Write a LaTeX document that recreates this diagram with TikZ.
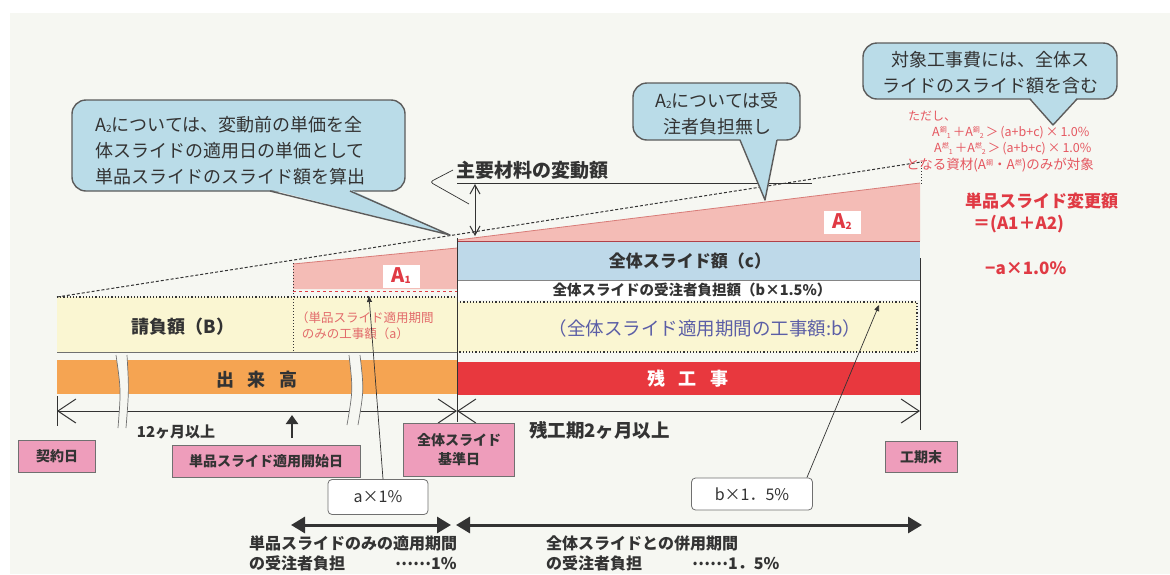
\documentclass[tikz,border=0pt]{standalone}
\usepackage{fontspec}
\setmainfont{Noto Sans CJK JP}
\usetikzlibrary{arrows.meta}
\definecolor{bgc}{HTML}{F6F7F2}
\definecolor{ylw}{HTML}{FAF6D2}
\definecolor{org}{HTML}{F5A452}
\definecolor{rd}{HTML}{E8383E}
\definecolor{rddk}{HTML}{B04048}
\definecolor{pnk}{HTML}{F4BCB6}
\definecolor{pnkdk}{HTML}{D87C78}
\definecolor{blu}{HTML}{BED9E9}
\definecolor{cal}{HTML}{BADCE8}
\definecolor{lbl}{HTML}{EE9DBB}
\definecolor{rtxt}{HTML}{E03A44}
\definecolor{atxt}{HTML}{E26A6A}
\definecolor{btxt}{HTML}{5B5EA6}
\definecolor{ln}{HTML}{333333}
\newcommand\Ajp[2]{A\raisebox{4pt}{\fontsize{7}{7}\selectfont #1}\raisebox{-2pt}{\fontsize{7}{7}\selectfont #2}}
\newcommand\subtwo[1]{\raisebox{-1pt}{\fontsize{10}{10}\selectfont #1}}
\newcommand\middots{\raisebox{4pt}{……}}
\tikzset{
  callbox/.style={fill=cal, draw=ln!80, line width=1.4pt, rounded corners=14pt},
  calltail/.style={fill=cal},
  calledge/.style={draw=ln!80, line width=1.4pt, line join=round},
  calltext/.style={align=left, text=ln, font=\fontsize{18}{26}\selectfont, inner sep=0pt},
  pinklbl/.style={fill=lbl, draw=ln!70, line width=0.8pt, font=\fontsize{14}{19}\selectfont\bfseries, text=ln, inner sep=1pt, align=center},
  valbox/.style={fill=white, draw=ln!70, line width=0.8pt, rounded corners=4pt, font=\fontsize{16}{18}\selectfont, text=ln, inner sep=1pt},
  dimarrow/.style={line width=1pt, draw=ln, {Straight Barb[length=18pt,width=24pt]}-{Straight Barb[length=18pt,width=24pt]}},
  bigarrow/.style={line width=3pt, draw=ln, {Triangle[length=14pt,width=16pt]}-{Triangle[length=14pt,width=16pt]}},
  leader/.style={line width=0.7pt, draw=ln, -{Triangle[length=6pt,width=5pt]}},
  boldlbl/.style={font=\fontsize{18}{22}\selectfont\bfseries, text=ln, inner sep=0pt},
  redlbl/.style={font=\fontsize{17}{22}\selectfont\bfseries, text=rtxt, inner sep=0pt, anchor=west},
  redsmall/.style={font=\fontsize{12.5}{13}\selectfont, text=rtxt!85, inner sep=0pt, anchor=west},
  Abox/.style={fill=white, inner sep=1pt, minimum width=37pt, minimum height=23pt, text=rtxt, font=\fontsize{20}{20}\selectfont\bfseries}
}
\begin{document}
\begin{tikzpicture}[x=1pt,y=-1pt]
\useasboundingbox (0,0) rectangle (1170,574);
\fill[white] (0,0) rectangle (1170,574);
\fill[bgc] (10,13) rectangle (1170,574);

% ---- left part: contract amount rows
\fill[ylw] (57,297) rectangle (457,352);
\fill[pnk] (293,264) -- (457,248) -- (457,289) -- (293,289) -- cycle;
\draw[pnkdk, line width=0.8pt] (293,264) -- (457,248);
\draw[rtxt, dashed, line width=1pt] (293,291) -- (457,291);
\draw[ln, dotted, line width=1.2pt] (57,297) -- (457,297);
\draw[ln, dotted, line width=1pt] (293,263) -- (293,352);
\draw[ln!70, line width=0.8pt] (57,352) -- (457,352);

% ---- right part rows
\fill[pnk] (457,240) -- (920,183) -- (920,241) -- (457,241) -- cycle;
\draw[pnkdk, line width=0.8pt] (457,240) -- (920,183);
\fill[blu] (457,242) rectangle (920,280);
\draw[rddk, line width=1pt] (457,241.5) -- (920,241.5);
\fill[white] (457,280) rectangle (920,300);
\draw[ln!60, line width=0.6pt] (457,280) -- (920,280);
\fill[ylw] (457,302) rectangle (917,352);
\draw[ln, dotted, line width=1.2pt] (457,302) -- (917,302) -- (917,352) -- (457,352);

\fill[org] (57,360) rectangle (457,394);
\fill[rd] (457,362) rectangle (920,395);

% ---- boundary lines
\draw[ln, line width=1pt] (457,238) -- (457,422);
\draw[ln, line width=1pt] (920,258) -- (920,430);
\draw[ln, line width=1pt] (57,396) -- (57,426);

% ---- dashed slope
\draw[ln, dash pattern=on 3pt off 2pt, line width=1pt] (57,297) -- (921,162);
\draw[ln, dotted, line width=1pt] (921,162) -- (921,185);

% ---- dimension line
\coordinate (dL) at (57,411);
\coordinate (dM) at (457,411);
\coordinate (dR) at (920,411);
\draw[dimarrow] (dL) -- (dM);
\draw[dimarrow] (dM) -- (dR);

% ---- breaks
\fill[bgc] (116,355) .. controls (121,390) .. (118,428) -- (126,428) .. controls (129,390) .. (127,355) -- cycle;
\draw[ln!70, line width=0.7pt] (116,355) .. controls (121,390) .. (118,428);
\draw[ln!70, line width=0.7pt] (127,355) .. controls (129,390) .. (126,428);
\fill[bgc] (349,355) .. controls (353,390) .. (347,425) -- (358,425) .. controls (364,390) .. (360,355) -- cycle;
\draw[ln!70, line width=0.7pt] (349,355) .. controls (353,390) .. (347,425);
\draw[ln!70, line width=0.7pt] (360,355) .. controls (364,390) .. (358,425);

% ---- variation amount marker
\draw[ln, line width=0.8pt] (457,183) -- (812,183);
\coordinate (vt) at (475,184);
\coordinate (vb) at (475,236);
\draw[ln, line width=1pt, {Straight Barb[length=9pt,width=10pt]}-{Straight Barb[length=9pt,width=10pt]}] (vt) -- (vb);
\node[boldlbl, anchor=west, font=\fontsize{19}{22}\selectfont\bfseries] (hendo) at (456,170) {主要材料の変動額};
\coordinate (hk) at (430,182);
\coordinate (hv) at (469,204);
\draw[ln, line width=0.7pt, rounded corners=3pt] ([xshift=-3pt]hendo.west) -- (hk) -- (hv);

% ---- callouts
\draw[callbox] (72,100) rectangle (405,191);
\fill[calltail] (270,189.5) -- (450,235) -- (350,189.5) -- cycle;
\draw[calledge] (270,191) -- (450,235) -- (350,191);
\node[calltext, anchor=west] (c1) at (95,151) {A\subtwo{2}については、変動前の単価を全\\体スライドの適用日の単価として\\単品スライドのスライド額を算出};

\draw[callbox] (633,83) rectangle (800,140);
\fill[calltail] (740,138.5) -- (765,200) -- (777,138.5) -- cycle;
\draw[calledge] (740,140) -- (765,200) -- (777,140);
\node[calltext, align=center] (c2) at (717,114) {A\subtwo{2}については受\\注者負担無し};

\draw[callbox] (863,43) rectangle (1117,99);
\fill[calltail] (1030,97.5) -- (1053,125) -- (1077,97.5) -- cycle;
\draw[calledge] (1030,99) -- (1053,125) -- (1077,99);
\node[calltext, align=center] (c3) at (990,73) {対象工事費には、全体ス\\ライドのスライド額を含む};

% ---- red notes
\node[redsmall, font=\fontsize{12}{13}\selectfont] (tadashi) at (908,116) {ただし、};
\node[redsmall] (f1) at (932,133) {\Ajp{鋼}{1}\,＋\Ajp{鋼}{2}\,＞\,(a+b+c)\,×\,1.0\%};
\node[redsmall] (f2) at (934,149) {\Ajp{燃}{1}\,＋\Ajp{燃}{2}\,＞\,(a+b+c)\,×\,1.0\%};
\node[redsmall, font=\fontsize{13.5}{14}\selectfont] (f3) at (906,165) {となる資材(A\raisebox{4pt}{\fontsize{7}{7}\selectfont 鋼}・A\raisebox{4pt}{\fontsize{7}{7}\selectfont 燃})のみが対象};
\node[redlbl] (hen) at (965,201) {単品スライド変更額};
\node[redlbl] (eq) at (973,224) {＝(A1＋A2)};
\node[redlbl] (minus) at (985,268) {−a×1.0\%};

% ---- labels in rows
\node[Abox] (A1) at (401,276) {A\subtwo{1}};
\node[Abox] (A2) at (842,222) {A\subtwo{2}};
\node[boldlbl, font=\fontsize{17}{20}\selectfont\bfseries] (cc) at (690,261) {全体スライド額（c）};
\node[boldlbl, font=\fontsize{14.5}{16}\selectfont\bfseries] (bb) at (692,290) {全体スライドの受注者負担額（b×1.5\%）};
\node[boldlbl, font=\fontsize{18.5}{20}\selectfont, text=btxt] (bwork) at (705,328) {（全体スライド適用期間の工事額:b）};
\node[boldlbl] (B) at (183,327) {請負額（B）};
\node[inner sep=0pt, align=left, text=atxt, font=\fontsize{12.5}{16}\selectfont, anchor=west] (awork) at (296,326) {（単品スライド適用期間\\\ \ のみの工事額（a）};
\node[boldlbl] (dekidaka) at (257,380) {出\hspace{14pt}来\hspace{14pt}高};
\node[boldlbl, text=white] (zan) at (688,379) {残\hspace{14pt}工\hspace{14pt}事};

% ---- period labels
\node[boldlbl, font=\fontsize{15}{18}\selectfont\bfseries] (m12) at (176,432) {12ヶ月以上};
\node[boldlbl, font=\fontsize{18.5}{20}\selectfont\bfseries, anchor=west] (m2) at (529,430) {残工期2ヶ月以上};
\coordinate (upb) at (292,438);
\coordinate (upt) at (292,415);
\draw[ln, line width=2.5pt, -{Triangle[length=9pt,width=12pt]}] (upb) -- (upt);

\node[pinklbl, minimum width=77pt, minimum height=32pt] (keiyaku) at (57,456) {契約日};
\node[pinklbl, minimum width=188pt, minimum height=32pt] (tstart) at (266,461) {単品スライド適用開始日};
\node[pinklbl, minimum width=111pt, minimum height=53pt] (kijun) at (459,450) {全体スライド\\基準日};
\node[pinklbl, minimum width=72pt, minimum height=31pt] (kouki) at (921,457) {工期末};

% ---- value boxes and leaders
\node[valbox, minimum width=100pt, minimum height=35pt] (a1) at (378,497) {a×1\%};
\node[valbox, minimum width=121pt, minimum height=32pt] (b15) at (752,494) {b×1．5\%};
\coordinate (a1tip) at (369,296);
\coordinate (b15tip) at (879,305);
\draw[leader] ([xshift=5pt]a1.north) -- (a1tip);
\draw[leader] ([xshift=-6pt]b15.north east) -- (b15tip);

% ---- bottom arrows
\coordinate (p1) at (291,525);
\coordinate (p2) at (451,525);
\coordinate (p3) at (456,525);
\coordinate (p4) at (922,525);
\draw[bigarrow] (p1) -- (p2);
\draw[bigarrow] (p3) -- (p4);
\node[boldlbl, font=\fontsize{16}{20}\selectfont\bfseries, align=left, anchor=west] (t1) at (249,553) {単品スライドのみの適用期間\\の受注者負担\hspace{50pt}\middots 1\%};
\node[boldlbl, font=\fontsize{16}{20}\selectfont\bfseries, align=left, anchor=west] (t2) at (546,553) {全体スライドとの併用期間\\の受注者負担\hspace{50pt}\middots 1．5\%};
\end{tikzpicture}
\end{document}
